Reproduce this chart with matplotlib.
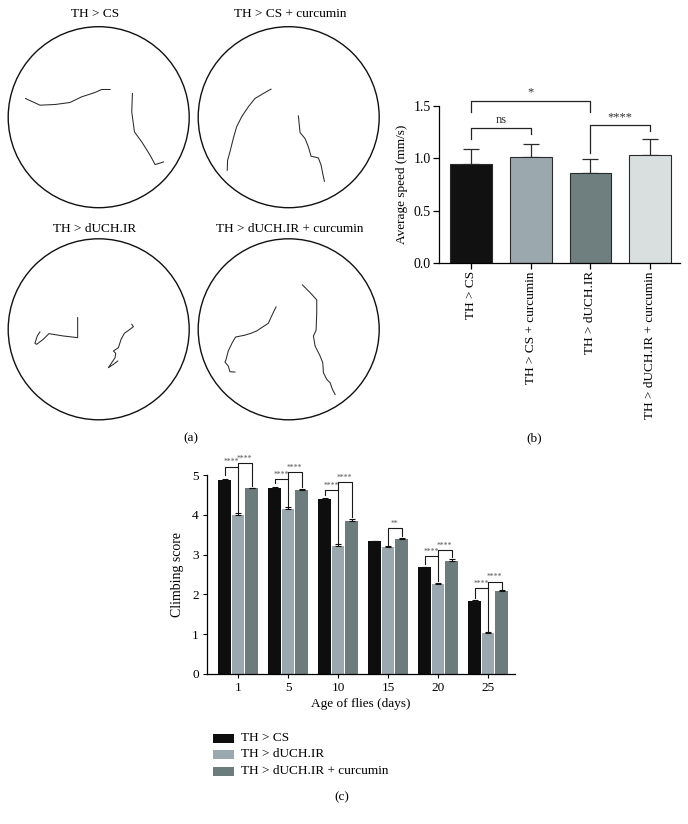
import matplotlib
matplotlib.use("Agg")
import matplotlib.pyplot as plt
from matplotlib.patches import Circle, Rectangle
import numpy as np

plt.rcParams['font.family'] = ['Liberation Serif', 'DejaVu Serif']

W, H = 688, 824

# ---------------- Panel (a) data: trajectories (pixel readings in 3x zoom space) -----------
arena_titles = ["TH > CS", "TH > CS + curcumin", "TH > dUCH.IR", "TH > dUCH.IR + curcumin"]
track_cs_1 = [(62,220),(105,240),(150,238),(195,232),(230,215),(270,202),(290,193),(315,193)]
track_cs_2 = [(382,205),(380,260),(388,320),(410,350),(435,390),(450,418),(475,410)]
track_cscur_1 = [(228,192),(205,205),(180,220),(160,245),(140,275),(125,305),(115,340),(105,380),(98,405),(97,435)]
track_cscur_2 = [(310,272),(315,322),(330,340),(340,365),(348,393),(358,395),(370,398),(378,420),(383,445),(388,468)]
track_ir_1 = [(218,245),(218,305),(175,300),(132,293),(115,310),(95,325),(90,322),(97,300),(105,288)]
track_ir_2 = [(380,265),(385,272),(372,282),(358,292),(348,310),(340,335),(325,345),(332,352),(330,365),(320,380),(310,395),(325,385),(338,375)]
track_ircur_1 = [(243,213),(230,240),(220,262),(200,275),(185,285),(168,292),(148,298),(122,303),(112,320),(100,345),(93,372),(90,378),(100,390),(105,407),(120,408)]
track_ircur_2 = [(322,147),(345,170),(365,192),(365,230),(363,283),(355,300),(360,330),(375,360),(383,380),(385,410),(395,430),(405,440),(412,460),(420,475)]
arena_tracks = [[track_cs_1, track_cs_2], [track_cscur_1, track_cscur_2],
                [track_ir_1, track_ir_2], [track_ircur_1, track_ircur_2]]
arena_centers_zoom = [(281, 276), (281, 276), (281, 280), (281, 280)]
arena_r_zoom = 271.0

# ---------------- Panel (b) data ----------------
speed_groups = ["TH > CS", "TH > CS + curcumin", "TH > dUCH.IR", "TH > dUCH.IR + curcumin"]
speed_mean = [0.95, 1.01, 0.86, 1.03]
speed_err = [0.14, 0.13, 0.13, 0.15]
speed_colors = ["#111111", "#9ba8ad", "#6f7f80", "#d9dfde"]
# (i, j, top, left_bottom, right_bottom, label)
speed_sig = [(0, 2, 1.55, 1.445, 1.445, "*"),
             (0, 1, 1.29, 1.18, 1.23, "ns"),
             (2, 3, 1.315, 1.05, 1.26, "****")]

# ---------------- Panel (c) data ----------------
ages = ["1", "5", "10", "15", "20", "25"]
climb_series = ["TH > CS", "TH > dUCH.IR", "TH > dUCH.IR + curcumin"]
climb_cs = [4.87, 4.67, 4.40, 3.33, 2.68, 1.83]
climb_ir = [4.00, 4.15, 3.22, 3.18, 2.27, 1.04]
climb_ircur = [4.67, 4.62, 3.85, 3.40, 2.85, 2.09]
err_cs = [0.02, 0.02, 0.02, 0.01, 0.02, 0.02]
err_ir = [0.05, 0.05, 0.05, 0.03, 0.02, 0.02]
err_ircur = [0.01, 0.03, 0.05, 0.02, 0.05, 0.02]
climb_colors = ["#0e0e0e", "#9aa9af", "#6c7c7d"]
# (group, i, j, top, left_bottom, right_bottom, label)
climb_sig = [(0, 0, 1, 5.21, 5.00, 4.08, "****"), (0, 1, 2, 5.29, 5.21, 4.72, "****"),
             (1, 0, 1, 4.90, 4.79, 4.22, "****"), (1, 1, 2, 5.07, 4.90, 4.70, "****"),
             (2, 0, 1, 4.62, 4.50, 3.30, "****"), (2, 1, 2, 4.82, 4.62, 3.95, "****"),
             (3, 1, 2, 3.66, 3.25, 3.47, "**"),
             (4, 0, 1, 2.96, 2.76, 2.33, "****"), (4, 1, 2, 3.12, 2.96, 2.94, "****"),
             (5, 0, 1, 2.15, 1.90, 1.09, "****"), (5, 1, 2, 2.32, 2.15, 2.14, "****")]

fig = plt.figure(figsize=(W/100, H/100), dpi=100)

def px_axes(x0, y0, x1, y1):
    return fig.add_axes([x0/W, 1 - y1/H, (x1-x0)/W, (y1-y0)/H])

def ftext(x, y, s, **kw):
    fig.text(x/W, 1 - y/H, s, **kw)

# ---- Panel (a)
centers_px = [(98.7, 117.2), (288.7, 117.2), (98.7, 329.3), (288.7, 329.3)]
R = 90.5
title_pos = [(95, 14), (290, 14), (95, 229), (290, 229)]
for k in range(4):
    cx, cy = centers_px[k]
    ax = px_axes(cx - R, cy - R, cx + R, cy + R)
    ax.set_xlim(-1, 1); ax.set_ylim(-1, 1)
    ax.axis('off')
    ax.add_patch(Circle((0, 0), 1, fill=False, lw=1.0, ec="#111111", clip_on=False))
    zcx, zcy = arena_centers_zoom[k]
    for tr in arena_tracks[k]:
        arr = np.array(tr, dtype=float)
        u = (arr[:, 0] - zcx) / arena_r_zoom
        v = (zcy - arr[:, 1]) / arena_r_zoom
        ax.plot(u, v, color="#2a2a2a", lw=0.75)
    tx, ty = title_pos[k]
    ftext(tx, ty, arena_titles[k], ha='center', va='center', fontsize=9.5)

ftext(191, 438, "(a)", ha='center', va='center', fontsize=9.5)
ftext(534, 438, "(b)", ha='center', va='center', fontsize=9.5)

# ---- Panel (b)
axb = px_axes(439, 106, 680, 263)
xb = np.arange(len(speed_groups))
axb.bar(xb, speed_mean, width=0.70, color=speed_colors, edgecolor="#2a2a2a", linewidth=0.8, zorder=2)
axb.errorbar(xb, speed_mean, yerr=[np.zeros(4), speed_err], fmt='none', ecolor="#2a2a2a",
             elinewidth=0.9, capsize=6, capthick=0.9, zorder=1)
axb.set_xlim(-0.536, 3.5)
axb.set_ylim(0, 1.5)
axb.set_yticks([0.0, 0.5, 1.0, 1.5])
axb.set_yticklabels(["0.0", "0.5", "1.0", "1.5"], fontsize=10)
axb.set_xticks(xb)
axb.set_xticklabels(speed_groups, rotation=90, fontsize=9.5)
axb.spines['top'].set_visible(False)
axb.spines['right'].set_visible(False)
for s in ['left', 'bottom']:
    axb.spines[s].set_linewidth(0.9)
axb.tick_params(axis='y', length=4, width=0.9, pad=2)
axb.tick_params(axis='x', length=4, width=0.9, pad=2)
axb.set_ylabel("Average speed (mm/s)", fontsize=9.5, labelpad=4)
for i, j, top, lb, rb, lab in speed_sig:
    axb.plot([i, i, j, j], [lb, top, top, rb], color="#222222", lw=0.9, clip_on=False)
    axb.text((i + j) / 2, top + 0.02, lab, ha='center', va='bottom', fontsize=9, color="#333333",
             clip_on=False)

# ---- Panel (c)
axc = px_axes(207, 475, 515, 674)
xc = np.arange(len(ages))
offs = [-0.27, 0.0, 0.27]
vals = [climb_cs, climb_ir, climb_ircur]
errs = [err_cs, err_ir, err_ircur]
for k in range(3):
    axc.bar(xc + offs[k], vals[k], width=0.25, color=climb_colors[k], edgecolor='none', zorder=2,
            label=climb_series[k])
    axc.errorbar(xc + offs[k], vals[k], yerr=[np.zeros(6), errs[k]], fmt='none', ecolor="#111111",
                 elinewidth=0.8, capsize=2.2, capthick=0.8, zorder=3)
axc.set_xlim(-0.62, 5.54)
axc.set_ylim(0, 5)
axc.set_yticks([0, 1, 2, 3, 4, 5])
axc.set_yticklabels(["0", "1", "2", "3", "4", "5"], fontsize=9.5)
axc.set_xticks(xc)
axc.set_xticklabels(ages, fontsize=9.5)
axc.spines['top'].set_visible(False)
axc.spines['right'].set_visible(False)
for s in ['left', 'bottom']:
    axc.spines[s].set_linewidth(0.9)
axc.tick_params(axis='both', length=3, width=0.8, pad=3)
axc.set_ylabel("Climbing score", fontsize=10, labelpad=6)
axc.set_xlabel("Age of flies (days)", fontsize=9.5, labelpad=3)
for g, i, j, top, lb, rb, lab in climb_sig:
    xi = g + offs[i]; xj = g + offs[j]
    axc.plot([xi, xi, xj, xj], [lb, top, top, rb], color="#1a1a1a", lw=0.8, clip_on=False, zorder=4)
    axc.text((xi + xj) / 2, top + 0.01, lab, ha='center', va='bottom', fontsize=5.5,
             color="#555555", clip_on=False)

# legend (c)
leg_y = [738, 754, 771]
for k in range(3):
    lx0, ly = 213, leg_y[k]
    fig.patches.append(Rectangle((lx0/W, 1 - (ly + 4.5)/H), 21/W, 9/H, transform=fig.transFigure,
                                 facecolor=climb_colors[k], edgecolor='none'))
    ftext(241, ly, climb_series[k], ha='left', va='center', fontsize=9.5)

ftext(342, 797, "(c)", ha='center', va='center', fontsize=9.5)

fig.savefig("out.png", dpi=100)
